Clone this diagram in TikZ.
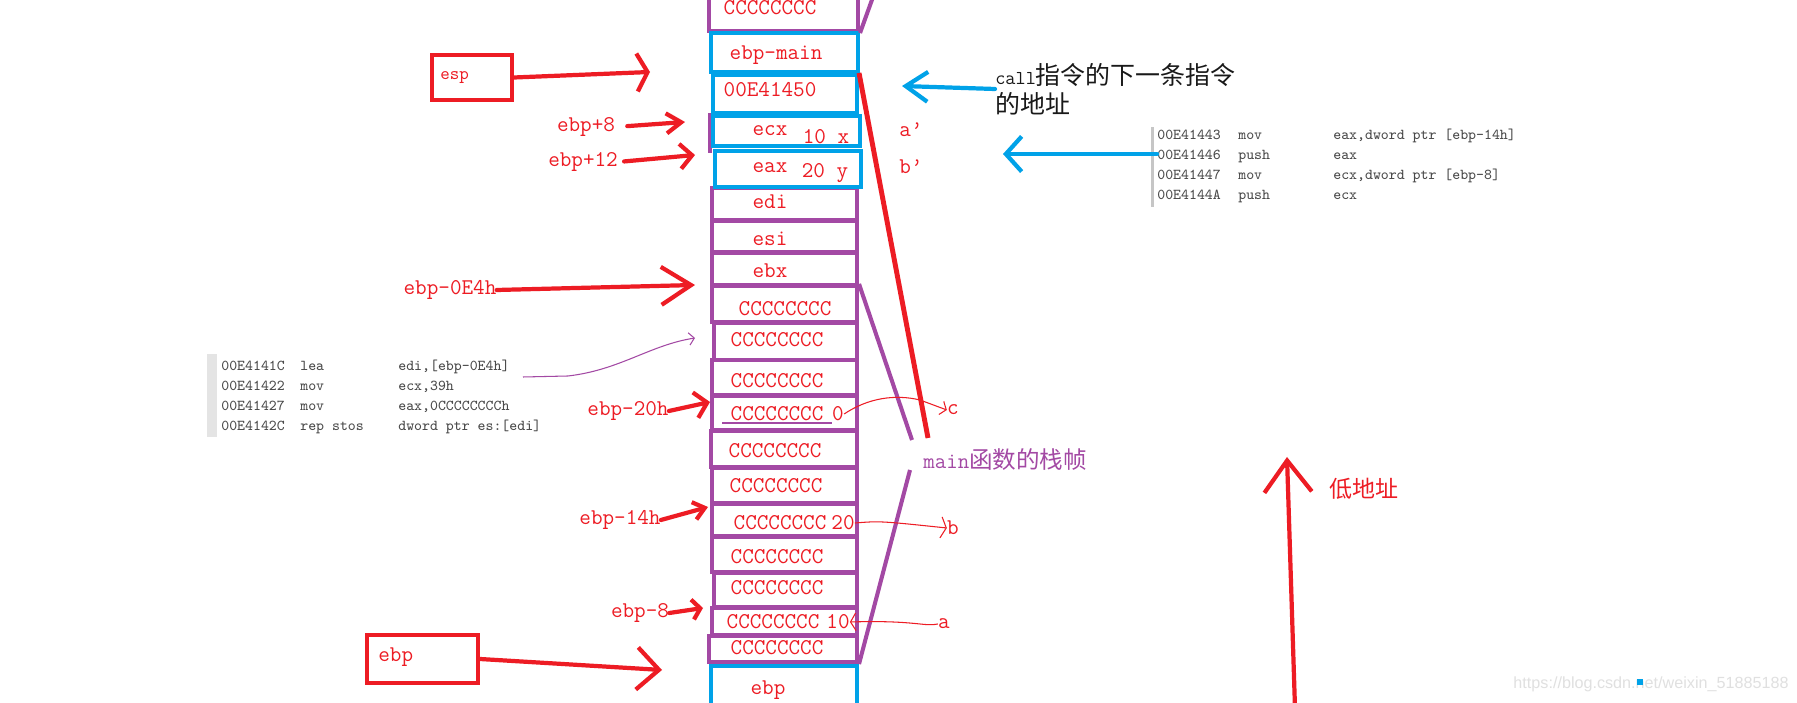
\documentclass[tikz,border=0pt]{standalone}
\usepackage{fontspec}
\newfontfamily\cjk{Noto Sans CJK SC}
\newfontfamily\wmfont{Liberation Sans}
\usetikzlibrary{positioning,arrows.meta,fit}
\definecolor{pred}{HTML}{ED1C24}
\definecolor{pblue}{HTML}{00A2E8}
\definecolor{ppurple}{HTML}{A349A4}
\definecolor{lstgray}{HTML}{4A4A4A}
\definecolor{barfill}{HTML}{E4E4E4}

\begin{document}
\begin{tikzpicture}[x=0.2mm,y=-0.2mm,
    cellp/.style={draw=ppurple,line width=2.3pt,inner sep=0pt},
    cellb/.style={draw=pblue,line width=2.3pt,inner sep=0pt},
    redbox/.style={draw=pred,line width=2.3pt,inner sep=0pt},
    lab/.style={text=pred,font=\fontsize{12.8}{15}\selectfont\ttfamily,inner sep=0pt},
    lst/.style={text=lstgray,font=\fontsize{8.6}{11.4}\selectfont\ttfamily,inner sep=0pt,anchor=north west},
    redarr/.style={draw=pred,line width=2.4pt,line cap=round},
    bluearr/.style={draw=pblue,line width=2.4pt,line cap=round},
    thinred/.style={draw=pred,line width=0.6pt}]
    \useasboundingbox (0,0) rectangle (1797,703);
    \fill[white] (0,0) rectangle (1797,703);
    \clip (0,0) rectangle (1797,703);
    % stack: purple cells
    \node[cellp,fit={(709,-15) (858,31)}] (ctop) {};
    \draw[ppurple,line width=2.3pt] (710,113) -- (710,153);
    \node[cellp,fit={(712,188) (857,220)}] (cedi) {};
    \node[cellp,fit={(712,221) (857,252)}] (cesi) {};
    \node[cellp,fit={(712,253) (857,285)}] (cebx) {};
    \node[cellp,fit={(712,286) (857,322)}] (cc1) {};
    \node[cellp,fit={(714,323) (857,360)}] (cc2) {};
    \node[cellp,fit={(712,360) (857,395)}] (cc3) {};
    \node[cellp,fit={(712,396) (857,430)}] (cc4) {};
    \node[cellp,fit={(711,431) (857,467)}] (cc5) {};
    \node[cellp,fit={(712,468) (857,503)}] (cc6) {};
    \node[cellp,fit={(712,504) (857,536)}] (cc7) {};
    \node[cellp,fit={(712,537) (857,572)}] (cc8) {};
    \node[cellp,fit={(714,573) (857,607)}] (cc9) {};
    \node[cellp,fit={(712,608) (857,635)}] (cc10) {};
    \node[cellp,fit={(709,636) (857,662)}] (cc11) {};
    % stack: blue cells
    \node[cellb,fit={(711,33) (858,72)}] (cmain) {};
    \node[cellb,fit={(713,75) (857,113)}] (cret) {};
    \node[cellb,fit={(713,116) (860,146)}] (cecx) {};
    \node[cellb,fit={(715,151) (861,187)}] (ceax) {};
    \node[cellb,fit={(711,666) (857,715)}] (cebp) {};
    % cell texts
    \node[lab] (ttop) at (770,8) {CCCCCCCC};
    \node[lab] (tmain) at (776,55) {ebp-main};
    \node[lab] (tret) at (770,90) {00E41450};
    \node[lab] (tecx) at (770,131) {ecx};
    \node[lab] (vecx) at (826,137) {10 x};
    \node[lab] (teax) at (770,168) {eax};
    \node[lab] (veax) at (825,173) {20 y};
    \node[lab] (tedi) at (770,202) {edi};
    \node[lab] (tesi) at (770,239) {esi};
    \node[lab] (tebx) at (770,271) {ebx};
    \node[lab] (tc1) at (785,309) {CCCCCCCC};
    \node[lab] (tc2) at (777,340) {CCCCCCCC};
    \node[lab] (tc3) at (777,381) {CCCCCCCC};
    \node[lab] (tc4) at (777,414) {CCCCCCCC};
    \node[lab] (z0) at (838,414) {0};
    \node[lab] (tc5) at (775,451) {CCCCCCCC};
    \node[lab] (tc6) at (776,486) {CCCCCCCC};
    \node[lab] (tc7) at (780,523) {CCCCCCCC};
    \node[lab] (z20) at (843,523) {20};
    \node[lab] (tc8) at (777,557) {CCCCCCCC};
    \node[lab] (tc9) at (777,588) {CCCCCCCC};
    \node[lab] (tc10) at (773,622) {CCCCCCCC};
    \node[lab] (z10) at (838,622) {10};
    \node[lab] (tc11) at (777,648) {CCCCCCCC};
    \node[lab] (tebp) at (768,690) {ebp};
    \draw[ppurple,line width=0.6pt] (722,423) -- (832,423);
    % registers pointing into the stack
    \node[redbox,fit={(432,55) (512,100)}] (esp) {};
    \node[lab,anchor=west,font=\fontsize{10.3}{12}\selectfont\ttfamily] (espt) at (440,78) {esp};
    \node[redbox,fit={(367,635) (478,683)}] (ebp) {};
    \node[lab,anchor=west] (ebpt) at (378,657) {ebp};
    \node[lab] (lp8) at (586,127) {ebp+8};
    \node[lab] (lp12) at (583,162) {ebp+12};
    \node[lab] (l0e4) at (450,290) {ebp-0E4h};
    \node[lab] (l20) at (628,411) {ebp-20h};
    \node[lab] (l14) at (620,520) {ebp-14h};
    \node[lab] (lm8) at (640,613) {ebp-8};
    \coordinate (tesp) at (650,72);
    \coordinate (t8) at (685,122);
    \coordinate (t12) at (695,155);
    \coordinate (t0e4) at (695,285);
    \coordinate (t20) at (710,402);
    \coordinate (t14) at (708,507);
    \coordinate (tm8) at (703,608);
    \coordinate (tebp) at (662,670);
    \draw[redarr,-{Straight Barb[length=6pt,width=21.6pt]}] (esp.east) -- (tesp);
    \draw[redarr,shorten <=2.4mm,-{Straight Barb[length=8.5pt,width=11.4pt]}] (lp8.east) -- (t8);
    \draw[redarr,shorten <=1.2mm,-{Straight Barb[length=6.8pt,width=14.2pt]}] (lp12.east) -- (t12);
    \draw[redarr,-{Straight Barb[length=17pt,width=21.6pt]}] (l0e4.east) -- (t0e4);
    \draw[redarr,-{Straight Barb[length=6.8pt,width=14.8pt]}] (l20.east) -- (t20);
    \draw[redarr,-{Straight Barb[length=6.3pt,width=10.2pt]}] (l14.east) -- (t14);
    \draw[redarr,-{Straight Barb[length=4.5pt,width=11.4pt]}] (lm8.east) -- (tm8);
    \draw[redarr,-{Straight Barb[length=12.5pt,width=24pt]}] (ebp.east) -- (tebp);
    % frame of main
    \node[text=ppurple,inner sep=0pt,anchor=west] (mainframe) at (923,460)
      {{\fontsize{12.7}{15}\selectfont\ttfamily main}{\fontsize{13.4}{15}\selectfont\cjk 函数的栈帧}};
    \coordinate (pup) at (912,440);
    \coordinate (plo) at (910,470);
    \coordinate (ptop) at (873,-3);
    \coordinate (redend) at (928,438);
    \draw[ppurple,line width=2.3pt] (ctop.south east) -- (ptop);
    \draw[ppurple,line width=2.3pt] (cc1.north east) -- (pup);
    \draw[ppurple,line width=2.3pt] (plo) -- (cc11.south east);
    \draw[pred,line width=2.8pt] (cret.north east) -- (redend);
    % labels a' b' a b c
    \node[lab] (ap) at (911,130) {a’};
    \node[lab] (bp) at (911,167) {b’};
    \node[lab] (lc) at (953,410) {c};
    \node[lab] (lb) at (953,528) {b};
    \node[lab] (la) at (944,624) {a};
    \draw[thinred,-{Straight Barb[length=3pt,width=8pt]}] (z0.east) .. controls (868,398) and (895,394) .. (920,400) -- (lc.west);
    \draw[thinred,-{Straight Barb[length=3pt,width=12pt]}] (z20.east) .. controls (880,521) .. (lb.west);
    \draw[thinred,-{Straight Barb[length=3pt,width=10pt]}] (la.west) .. controls (925,627) and (915,620) .. (z10.east);
    % call note
    \node[anchor=west,align=left,inner sep=0pt,text=black!90,font=\fontsize{14.2}{16.3}\selectfont\cjk] (callnote) at (995,89)
      {{\fontsize{11.2}{16.3}\selectfont\ttfamily call}指令的下一条指令\\的地址};
    \coordinate (rettip) at (902,86);
    \draw[bluearr,-{Straight Barb[length=12.5pt,width=17pt]}] (callnote.west) -- (rettip);
    % listings
    \fill[barfill] (207,354) rectangle (217,437);
    \node[lst] (lst1) at (221,356) {\begin{tabular}{@{}p{15.8mm}@{}p{19.6mm}@{}l@{}}
      00E4141C & lea & edi,[ebp-0E4h]\\
      00E41422 & mov & ecx,39h\\
      00E41427 & mov & eax,0CCCCCCCCh\\
      00E4142C & rep stos & dword ptr es:[edi]
      \end{tabular}};
    \coordinate (leaout) at (523,377);
    \coordinate (tlea) at (695,338);
    \draw[ppurple,line width=0.6pt,-{Straight Barb[length=3pt,width=7pt]}] (leaout) -- (568,376) .. controls (620,370) and (650,345) .. (tlea);
    \fill[barfill!70!gray] (1151,127) rectangle (1154,207);
    \node[lst] (lst2) at (1157,125) {\begin{tabular}{@{}p{16.2mm}@{}p{19mm}@{}l@{}}
      00E41443 & mov & eax,dword ptr [ebp-14h]\\
      00E41446 & push & eax\\
      00E41447 & mov & ecx,dword ptr [ebp-8]\\
      00E4144A & push & ecx
      \end{tabular}};
    \coordinate (abtip) at (1003,154);
    \draw[bluearr,-{Straight Barb[length=9pt,width=20pt]}] (lst2.west |- abtip) -- (abtip);
    % low address
    \node[text=pred,inner sep=0pt,font=\fontsize{13.1}{15}\selectfont\cjk] (lowaddr) at (1364,489) {低地址};
    \coordinate (lowbase) at (1295,708);
    \coordinate (lowtip) at (1287,457);
    \draw[redarr,-{Straight Barb[length=18pt,width=27pt]}] (lowbase) -- (lowtip);
    % watermark
    \node[text=black!12,inner sep=0pt,font=\fontsize{9.2}{11}\selectfont\wmfont] (wmark) at (1651,684) {https://blog.csdn.net/weixin\_51885188};
    \fill[pblue] (1637,679) rectangle (1643,685);
\end{tikzpicture}
\end{document}
